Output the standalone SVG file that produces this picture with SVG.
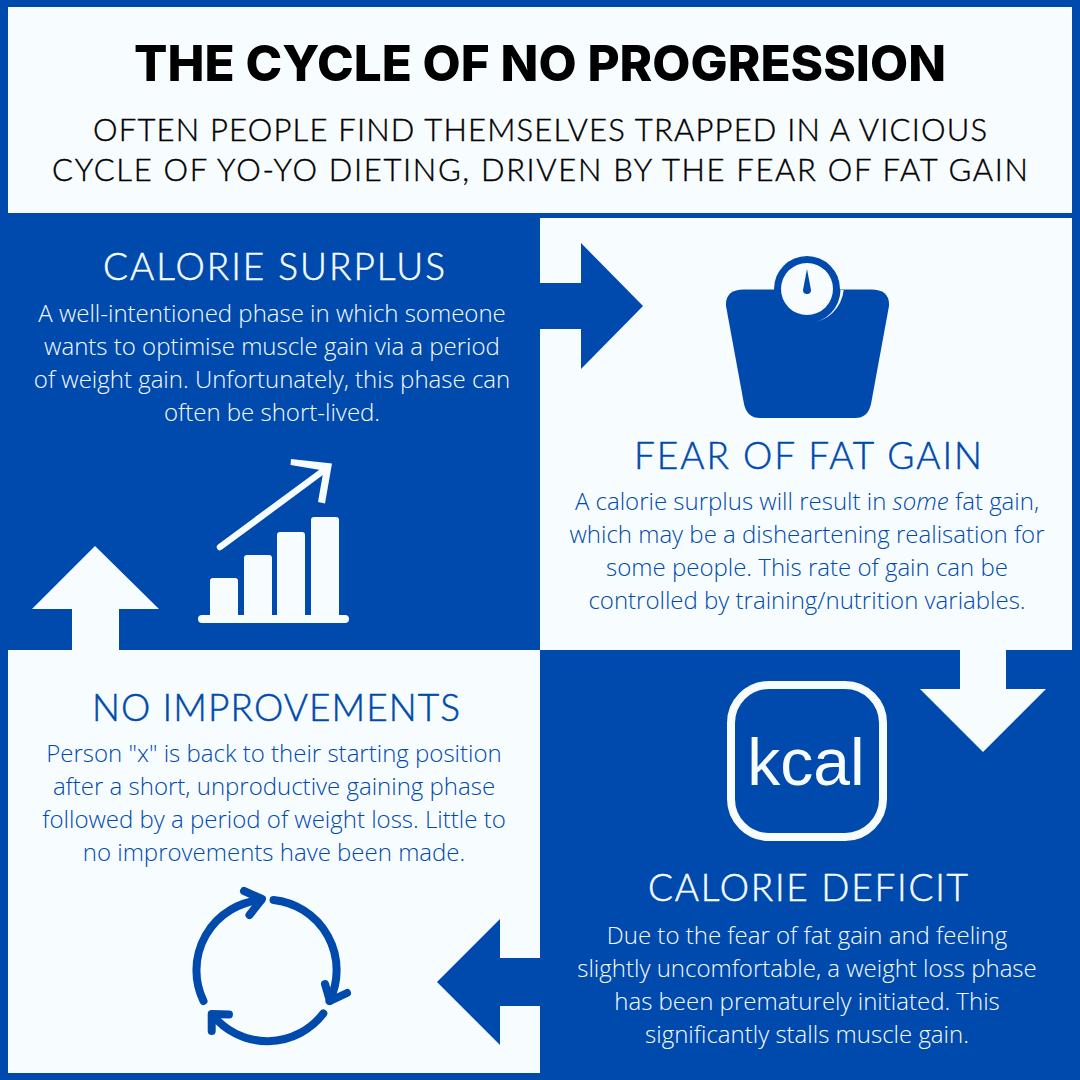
<svg xmlns="http://www.w3.org/2000/svg" width="1080" height="1080" viewBox="0 0 1080 1080">
<style>
.w{fill:#f7fcff}.b{fill:#004aad}
text{text-anchor:middle}
.title{font:800 50px "Inter","Liberation Sans",sans-serif;fill:#000}
.sub{font:300 31px "Lato","Liberation Sans",sans-serif;fill:#000;stroke:#000;stroke-width:.4}
.h{font:300 37px "Lato","Liberation Sans",sans-serif;stroke-width:.5}
.p{font:300 24px "Open Sans","Liberation Sans",sans-serif}
.tw{fill:#f7fcff}.tb{fill:#004aad}
.h.tw{stroke:#f7fcff}.h.tb{stroke:#004aad}
</style>
<rect width="1080" height="1080" class="b"/>
<g id="header">
<rect x="8" y="7" width="1064" height="206" class="w"/>
<text class="title" x="540" y="81" textLength="812" lengthAdjust="spacingAndGlyphs">THE CYCLE OF NO PROGRESSION</text>
<text class="sub" x="540" y="141" textLength="894" lengthAdjust="spacing">OFTEN PEOPLE FIND THEMSELVES TRAPPED IN A VICIOUS</text>
<text class="sub" x="540" y="181" textLength="976" lengthAdjust="spacing">CYCLE OF YO-YO DIETING, DRIVEN BY THE FEAR OF FAT GAIN</text>
</g>
<g id="panel-fear">
<rect x="540" y="218" width="532" height="432" class="w"/>
<path class="b" d="M744 289.500H871Q890 289.500 889 306L871 404Q868 418 855 418H760Q747 418 744 404L726 306Q725 289.500 744 289.500Z"/>
<circle cx="807" cy="289" r="33" class="b"/>
<circle cx="807" cy="289" r="26" class="w"/>
<path class="w" d="M843.700 290A36.700 36.700 0 0 1 809 323A33.500 33.500 0 0 0 840.500 290Z"/>
<path class="b" d="M807 269L811 290A4 4 0 0 1 803 290Z"/>
<text class="h tb" x="808" y="469" textLength="348" lengthAdjust="spacing">FEAR OF FAT GAIN</text>
<text class="p tb" x="807" y="510">A calorie surplus will result in <tspan font-style="italic">some</tspan> fat gain,</text>
<text class="p tb" x="807" y="543">which may be a disheartening realisation for</text>
<text class="p tb" x="807" y="576">some people. This rate of gain can be</text>
<text class="p tb" x="807" y="609">controlled by training/nutrition variables.</text>
</g>
<g id="panel-improvements">
<rect x="8" y="650" width="532" height="423" class="w"/>
<text class="h tb" x="276" y="721" textLength="368" lengthAdjust="spacing">NO IMPROVEMENTS</text>
<text class="p tb" x="274" y="762">Person "x" is back to their starting position</text>
<text class="p tb" x="274" y="795">after a short, unproductive gaining phase</text>
<text class="p tb" x="274" y="828">followed by a period of weight loss. Little to</text>
<text class="p tb" x="274" y="861">no improvements have been made.</text>
<g fill="none" stroke="#004aad" stroke-width="8" stroke-linecap="round" stroke-linejoin="round">
<path d="M203.500 1001A70.500 70.500 0 0 1 261 900"/><path d="M244 891L262 899L249.500 915"/>
<path d="M273.500 900A70.500 70.500 0 0 1 329.500 1001"/><path d="M325 984L330 1001L347 993"/>
<path d="M323.300 1013.500A70.500 70.500 0 0 1 212.500 1015"/><path d="M211.700 1031L211.700 1014L229 1014.500"/>
</g>
</g>
<g id="panel-surplus">
<text class="h tw" x="274" y="280" textLength="342" lengthAdjust="spacing">CALORIE SURPLUS</text>
<text class="p tw" x="272" y="322">A well-intentioned phase in which someone</text>
<text class="p tw" x="272" y="355">wants to optimise muscle gain via a period</text>
<text class="p tw" x="272" y="388">of weight gain. Unfortunately, this phase can</text>
<text class="p tw" x="272" y="421">often be short-lived.</text>
<g class="w">
<rect x="210" y="578" width="28" height="44" rx="3"/>
<rect x="244" y="555" width="28" height="67" rx="3"/>
<rect x="277" y="532" width="28" height="90" rx="3"/>
<rect x="311" y="517" width="28" height="105" rx="3"/>
<rect x="198" y="615" width="151" height="8" rx="4"/>
</g>
<path d="M220 547L325 469.500" fill="none" stroke="#f7fcff" stroke-width="6.500" stroke-linecap="round"/>
<path class="w" d="M291 459L332 463.500L325 503.500L318 502L323.500 470.500L290.500 465Z"/>
</g>
<g id="panel-deficit">
<rect x="731" y="685" width="152" height="152" rx="38" fill="none" stroke="#f7fcff" stroke-width="8"/>
<text x="806" y="785" font-family="Liberation Sans,sans-serif" font-size="66" class="tw">kcal</text>
<text class="h tw" x="808" y="901" textLength="320" lengthAdjust="spacing">CALORIE DEFICIT</text>
<text class="p tw" x="807" y="944">Due to the fear of fat gain and feeling</text>
<text class="p tw" x="807" y="977">slightly uncomfortable, a weight loss phase</text>
<text class="p tw" x="807" y="1010">has been prematurely initiated. This</text>
<text class="p tw" x="807" y="1043">significantly stalls muscle gain.</text>
</g>
<g id="connectors">
<path class="b" d="M540 283H581V243L643 306L581 369V329H540Z"/>
<path class="w" d="M960 650H1006V689H1046L983 752L920 689H960Z"/>
<path class="b" d="M540 958H500V919L437 982L500 1045V1006H540Z"/>
<path class="w" d="M72 650V609H32L95 546L159 609H119V650Z"/>
</g>
</svg>
